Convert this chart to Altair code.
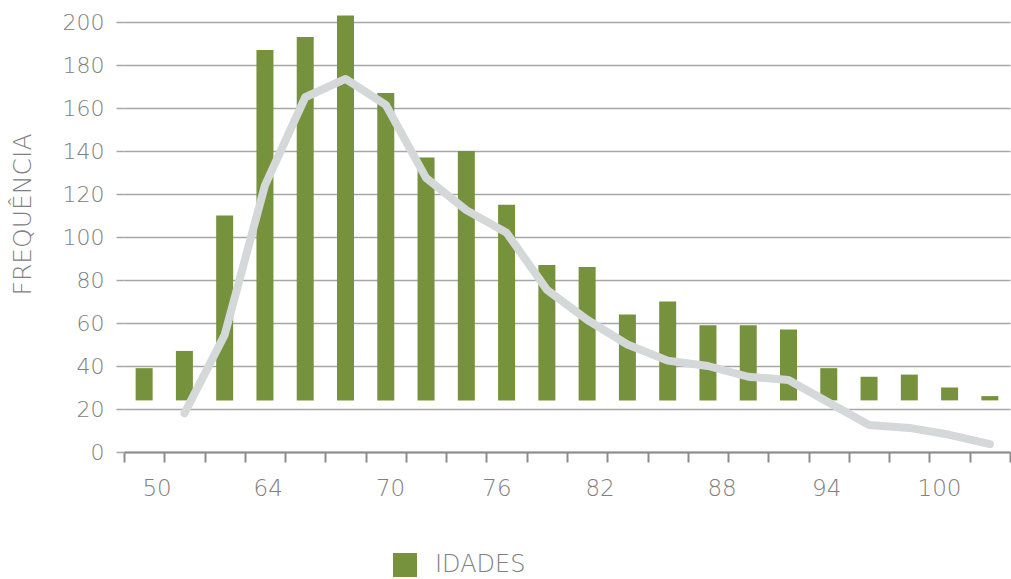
import altair as alt
import pandas as pd

# ---- data ----
bar_index = list(range(22))
frequencies = [39, 47, 110, 187, 193, 203, 167, 137, 140, 115, 87, 86,
               64, 70, 59, 59, 57, 39, 35, 36, 30, 26]
bar_base = 24
series_name = "IDADES"

trend_index = list(range(1, 22))
trend_values = [18, 54.5, 124, 165, 173.5, 161.5, 127.5, 112.5, 102, 75.5,
                61.5, 50, 42.5, 40, 35, 33.5, 23, 12.6, 11.2, 8, 3.7]

tick_labels = ["50", "64", "70", "76", "82", "88", "94", "100"]
tick_label_pos = [0.32, 3.08, 6.12, 8.76, 11.32, 14.35, 16.95, 19.75]

y_ticks = list(range(0, 201, 20))
band_edges = [i - 0.5 for i in range(23)]

FONT = "DejaVu Sans"
TXT = "#808080"
GRID = "#a6a6a6"
AXIS = "#8c8c8c"
GREEN = "#77923C"
LINE = "#D4D8D9"

bar_df = pd.DataFrame({"idx": bar_index, "freq": frequencies,
                       "base": [bar_base] * len(bar_index),
                       "serie": [series_name] * len(bar_index)})
trend_df = pd.DataFrame({"idx": trend_index, "val": trend_values})
label_df = pd.DataFrame({"pos": tick_label_pos, "label": tick_labels})

x_scale = alt.Scale(domain=[-0.5, 21.5], nice=False, zero=False, padding=0)
y_scale = alt.Scale(domain=[0, 200], nice=False)

bars = alt.Chart(bar_df).mark_bar(size=17).encode(
    x=alt.X("idx:Q", scale=x_scale,
            axis=alt.Axis(values=band_edges, labels=False, title=None, grid=False,
                          domainColor=AXIS, domainWidth=2, tickColor=AXIS,
                          tickWidth=2, tickSize=10)),
    y=alt.Y("freq:Q", scale=y_scale,
            axis=alt.Axis(values=y_ticks, title="FREQUÊNCIA", grid=True,
                          gridColor=GRID, gridWidth=1.5, domain=False,
                          tickSize=8, tickColor=GRID, tickWidth=1.5,
                          labelPadding=12, labelFontSize=22, labelColor=TXT,
                          labelFont=FONT, labelFontWeight=300,
                          titleFont=FONT, titleFontSize=25, titleFontWeight=300,
                          titleColor=TXT, titleAngle=270, titleX=-102, titleY=192,
                          titleAlign="center", titleBaseline="middle")),
    y2="base:Q",
    color=alt.Color("serie:N", scale=alt.Scale(domain=[series_name], range=[GREEN]),
                    legend=alt.Legend(title=None, orient="none", legendX=269, legendY=531,
                                      symbolType="square", symbolSize=576,
                                      symbolStrokeWidth=0, labelFontSize=24,
                                      labelColor=TXT, labelFont=FONT,
                                      labelFontWeight=300, labelOffset=18, padding=0)),
)

trend = alt.Chart(trend_df).mark_line(color=LINE, strokeWidth=8, strokeCap="round",
                                      strokeJoin="round").encode(
    x=alt.X("idx:Q", scale=x_scale),
    y=alt.Y("val:Q", scale=y_scale),
)

labels = alt.Chart(label_df).mark_text(fontSize=23, font=FONT, fontWeight=300,
                                       color=TXT, baseline="alphabetic").encode(
    x=alt.X("pos:Q", scale=x_scale),
    y=alt.value(474),
    text="label:N",
)

chart = alt.layer(bars, trend, labels).properties(
    width=886, height=430,
    autosize=alt.AutoSizeParams(type="none"),
    padding={"left": 124, "top": 22, "right": 1, "bottom": 127},
).configure_view(stroke=None)

chart.save("out.html", embed_options={"renderer": "svg", "actions": False})
